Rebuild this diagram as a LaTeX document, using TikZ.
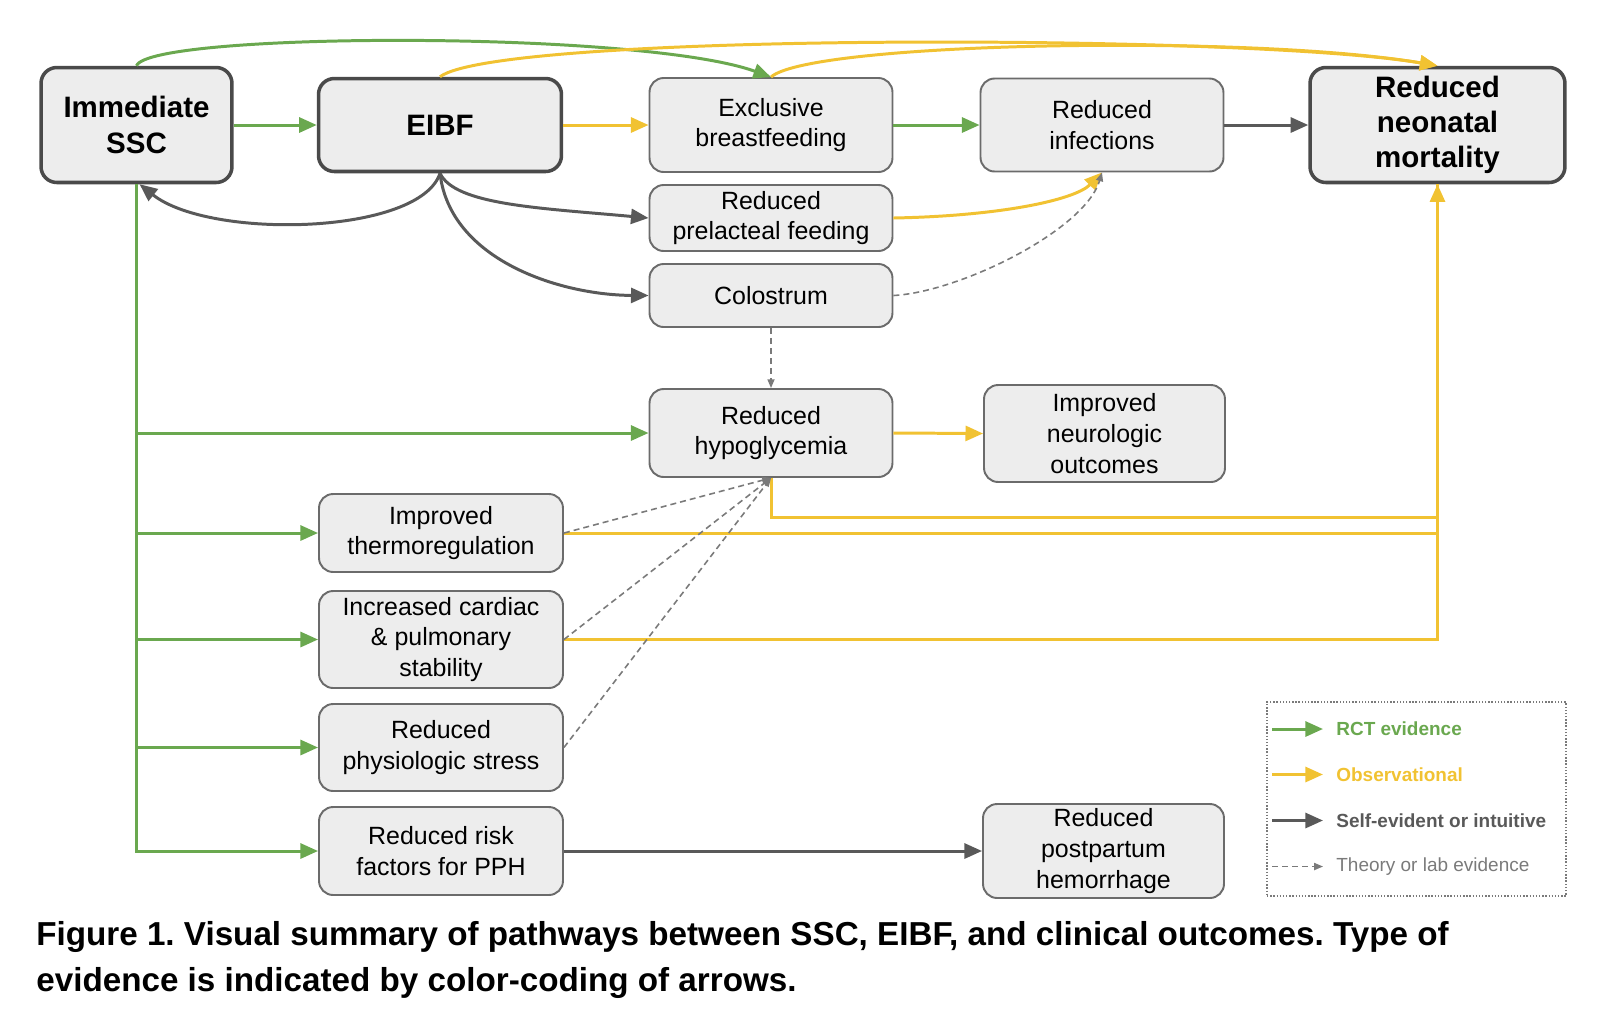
\documentclass[tikz,border=0pt]{standalone}
\usepackage{fontspec}
\setmainfont{Liberation Sans}
\usepackage{tikz}
\usetikzlibrary{arrows.meta}
\definecolor{my_green}{HTML}{6AA84F}
\definecolor{my_yellow}{HTML}{F1C232}
\definecolor{my_darkgray}{HTML}{595959}
\definecolor{my_gray}{HTML}{7A7A7A}
\definecolor{my_boxfill}{HTML}{EDEDED}
\definecolor{my_boxline}{HTML}{6B6B6B}
\definecolor{my_keyline}{HTML}{4A4A4A}
\frenchspacing

\begin{document}
\begin{tikzpicture}[
    x=0.02cm, y=-0.02cm,
    box/.style={draw=my_boxline, fill=my_boxfill, line width=1.1pt, rounded corners=8pt,
        align=center, inner sep=0pt, font=\fontsize{14.2}{17.4}\selectfont},
    keybox/.style={box, draw=my_keyline, line width=2pt, rounded corners=9pt,
        font=\fontsize{16.8}{20}\selectfont\bfseries},
    rct/.style={draw=my_green, line width=1.7pt, -{Triangle[length=10pt, width=8.5pt]}},
    obs/.style={draw=my_yellow, line width=1.7pt, -{Triangle[length=10pt, width=8.5pt]}},
    selfev/.style={draw=my_darkgray, line width=1.7pt, -{Triangle[length=10pt, width=8.5pt]}},
    theory/.style={draw=my_gray, line width=0.9pt, dash pattern=on 3.4pt off 2.3pt,
        -{Triangle[length=5pt, width=4pt]}},
    legtext/.style={anchor=west, inner sep=0pt, font=\fontsize{10.8}{13}\selectfont\bfseries},
    captext/.style={anchor=base west, inner sep=0pt, font=\fontsize{18.9}{26}\selectfont\bfseries}
]
\useasboundingbox (0,0) rectangle (1600,1019);

% --- Knoten: obere Reihe ---
\node[keybox, minimum width=3.82cm, minimum height=2.30cm] (ssc) at (136.5,125) {Immediate\\SSC};
\node[keybox, minimum width=4.86cm, minimum height=1.86cm] (eibf) at (440,125) {EIBF};
\node[box, minimum width=4.86cm, minimum height=1.88cm] (excl) at (771,125) {Exclusive\\breastfeeding};
\node[box, minimum width=4.86cm, minimum height=1.86cm] (infect) at (1102,125) {Reduced\\infections};
\node[keybox, minimum width=5.10cm, minimum height=2.30cm] (mort) at (1437.5,125) {Reduced\\neonatal\\mortality};

% --- Knoten: mittlere Spalte ---
\node[box, minimum width=4.86cm, minimum height=1.32cm] (prel) at (771,218) {Reduced\\prelacteal feeding};
\node[box, minimum width=4.86cm, minimum height=1.26cm] (colo) at (771,295.5) {Colostrum};
\node[box, minimum width=4.86cm, minimum height=1.76cm] (hypo) at (771,433) {Reduced\\hypoglycemia};
\node[box, minimum width=4.82cm, minimum height=1.94cm] (neuro) at (1104.5,433.5) {Improved\\neurologic\\outcomes};

% --- Knoten: linke Spalte ---
\node[box, minimum width=4.88cm, minimum height=1.56cm] (thermo) at (441,533) {Improved\\thermoregulation};
\node[box, minimum width=4.88cm, minimum height=1.94cm] (cardiac) at (441,639.5) {Increased cardiac\\\& pulmonary\\stability};
\node[box, minimum width=4.88cm, minimum height=1.74cm] (stress) at (441,747.5) {Reduced\\physiologic stress};
\node[box, minimum width=4.88cm, minimum height=1.76cm] (pphrisk) at (441,851) {Reduced risk\\factors for PPH};
\node[box, minimum width=4.82cm, minimum height=1.88cm] (pph) at (1103.5,851) {Reduced\\postpartum\\hemorrhage};

% --- Gerade Pfeile ---
\draw[rct] (ssc.east) -- (eibf.west);
\draw[obs] (eibf.east) -- (excl.west);
\draw[rct] (excl.east) -- (infect.west);
\draw[selfev] (infect.east) -- (mort.west);
\draw[obs] (hypo.east) -- (neuro.west);
\draw[selfev] (pphrisk.east) -- (pph.west);
\draw[theory] (colo.south) -- (hypo.north);

% --- Boegen oben ---
\draw[rct] (ssc.north) .. controls (150,32) and (640,30) .. (excl.north);
\draw[obs] (eibf.north) .. controls (500,32) and (1250,34) .. (mort.north);
\draw[obs] (excl.north) .. controls (810,42) and (1250,34) .. (mort.north);

% --- Boegen unter EIBF ---
\draw[selfev] (eibf.south) .. controls (420,235) and (210,240) .. (ssc.-87);
\draw[selfev] (eibf.south) .. controls (455,205) and (540,208) .. (prel.west);
\draw[selfev] (eibf.south) .. controls (450,260) and (560,295) .. (colo.west);
\draw[obs] (prel.east) .. controls (1000,216) and (1075,200) .. (infect.south);
\draw[theory] (colo.east) .. controls (960,292) and (1085,230) .. (infect.south);

% --- SSC-Stamm nach unten ---
\foreach \n in {hypo, thermo, cardiac, stress, pphrisk}
    \draw[rct] (ssc.south) |- (\n.west);

% --- Beobachtet: zur Mortalitaet ---
\draw[obs, -] (thermo.east) -| (mort.south);
\draw[obs, -] (cardiac.east) -| (mort.south);
\draw[obs] (hypo.south) -- ++(0,40) -| (mort.south);

% --- Theorie: zur Hypoglykaemie ---
\foreach \n in {thermo, cardiac, stress}
    \draw[theory] (\n.east) -- (hypo.south);

% --- Legende ---
\node[draw=my_gray, densely dotted, line width=0.8pt, minimum width=5.98cm, minimum height=3.88cm] (legend) at (1416.5,799) {};
\node[legtext, text=my_green] (lg_rct) at (1336,729) {RCT evidence};
\node[legtext, text=my_yellow] (lg_obs) at (1336,774.5) {Observational};
\node[legtext, text=my_darkgray] (lg_self) at (1336,820.5) {Self-evident or intuitive};
\node[legtext, text=my_gray, font=\fontsize{10.8}{13}\selectfont] (lg_theory) at (1336,866.5) {Theory or lab evidence};
\coordinate (k_rct) at (1272,729);
\coordinate (k_obs) at (1272,774.5);
\coordinate (k_self) at (1272,820.5);
\coordinate (k_theory) at (1272,866.5);
\draw[rct] (k_rct) -- ([xshift=-0.26cm]lg_rct.west);
\draw[obs] (k_obs) -- ([xshift=-0.26cm]lg_obs.west);
\draw[selfev] (k_self) -- ([xshift=-0.26cm]lg_self.west);
\draw[theory] (k_theory) -- ([xshift=-0.26cm]lg_theory.west);

% --- Bildunterschrift ---
\node[captext] (cap_a) at (36,945) {Figure 1. Visual summary of pathways between SSC, EIBF, and clinical outcomes. Type of};
\node[captext] (cap_b) at (36,991) {evidence is indicated by color-coding of arrows.};

\end{tikzpicture}
\end{document}
